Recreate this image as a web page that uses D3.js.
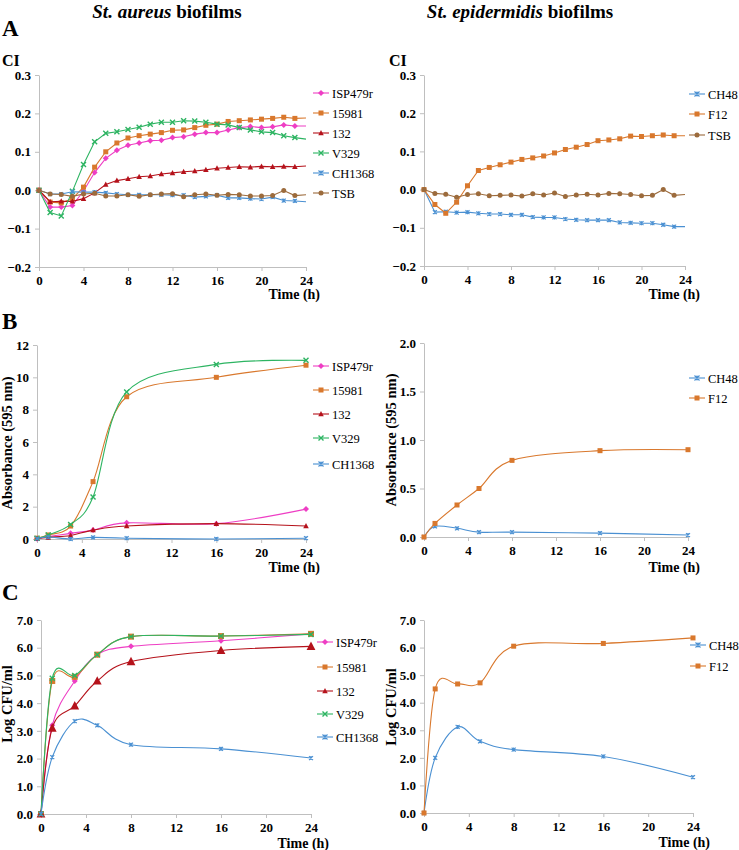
<!DOCTYPE html>
<html><head><meta charset="utf-8">
<script src="https://cdn.jsdelivr.net/npm/d3@7"></script>
<style>body{margin:0;background:#fff} svg{display:block} text{font-family:"Liberation Serif","Times New Roman",serif}</style>
</head><body><svg id="c" width="739" height="850"></svg>
<script>
// ---------- DATA ----------
const hoursA = [0,1,2,3,4,5,6,7,8,9,10,11,12,13,14,15,16,17,18,19,20,21,22,23,24];
const timesBC = [0,1,3,5,8,16,24];
const xTicks = [0,4,8,12,16,20,24];

// Panel A, St. aureus (CI)
const aISP479r = [0,-0.044,-0.044,-0.040,-0.002,0.046,0.083,0.104,0.117,0.123,0.129,0.130,0.137,0.139,0.146,0.150,0.150,0.157,0.163,0.166,0.163,0.165,0.170,0.167,0.167];
const a15981   = [0,-0.031,-0.033,-0.022,0.008,0.060,0.100,0.123,0.136,0.142,0.146,0.150,0.156,0.157,0.163,0.169,0.172,0.179,0.181,0.183,0.185,0.187,0.190,0.187,0.188];
const a132     = [0,-0.030,-0.029,-0.029,-0.022,-0.007,0.015,0.025,0.030,0.035,0.037,0.042,0.045,0.048,0.050,0.053,0.057,0.059,0.061,0.060,0.062,0.061,0.062,0.061,0.063];
const aV329    = [0,-0.058,-0.067,-0.003,0.067,0.126,0.148,0.152,0.158,0.164,0.172,0.177,0.177,0.181,0.180,0.177,0.172,0.170,0.163,0.157,0.152,0.150,0.142,0.137,0.133];
const aCH1368  = [0,-0.010,-0.010,-0.004,-0.005,-0.005,-0.007,-0.010,-0.012,-0.012,-0.012,-0.012,-0.013,-0.013,-0.018,-0.016,-0.013,-0.020,-0.020,-0.022,-0.023,-0.018,-0.027,-0.028,-0.030];
const aTSB     = [0,-0.010,-0.011,-0.016,-0.010,-0.008,-0.015,-0.015,-0.012,-0.016,-0.012,-0.010,-0.009,-0.017,-0.012,-0.010,-0.013,-0.011,-0.012,-0.015,-0.015,-0.014,-0.001,-0.014,-0.012];
// Panel A, St. epidermidis (CI)
const aCH48    = [0,-0.059,-0.058,-0.060,-0.059,-0.062,-0.064,-0.064,-0.066,-0.066,-0.072,-0.073,-0.073,-0.077,-0.079,-0.080,-0.080,-0.080,-0.086,-0.087,-0.088,-0.088,-0.092,-0.097,-0.097];
const aF12     = [0,-0.039,-0.062,-0.033,0.010,0.050,0.058,0.065,0.072,0.079,0.083,0.088,0.096,0.105,0.111,0.118,0.128,0.130,0.133,0.140,0.139,0.141,0.143,0.141,0.141];
const aTSBepi  = [0,-0.010,-0.012,-0.020,-0.013,-0.011,-0.016,-0.015,-0.014,-0.017,-0.011,-0.014,-0.009,-0.018,-0.014,-0.012,-0.014,-0.010,-0.011,-0.013,-0.016,-0.015,0.000,-0.015,-0.013];

// Panel B (Absorbance 595 nm)
const bISP479r = [0.02,0.15,0.35,0.55,1.00,0.95,1.85];
const b15981   = [0.05,0.25,0.80,3.55,8.80,10.00,10.75];
const b132     = [0.02,0.10,0.22,0.55,0.80,0.95,0.80];
const bV329    = [0.05,0.25,0.90,2.60,9.10,10.80,11.05];
const bCH1368  = [0.02,0.12,0.00,0.10,0.05,0.00,0.05];
const bCH48    = [0.00,0.11,0.09,0.05,0.05,0.04,0.02];
const bF12     = [0.00,0.14,0.33,0.50,0.79,0.89,0.90];

// Panel C (Log CFU/ml)
const cISP479r = [0,3.20,4.80,5.75,6.05,6.25,6.50];
const c15981   = [0,4.80,4.95,5.75,6.40,6.42,6.50];
const c132     = [0,3.10,3.90,4.80,5.50,5.90,6.05];
const cV329    = [0,4.90,5.00,5.75,6.40,6.42,6.48];
const cCH1368  = [0,2.05,3.35,3.20,2.50,2.35,2.02];
const cCH48    = [0,2.00,3.12,2.60,2.30,2.05,1.30];
const cF12     = [0,4.50,4.68,4.72,6.05,6.15,6.35];

const ticksCI = [-0.2,-0.1,0,0.1,0.2,0.3];
const ticksBL = [0,2,4,6,8,10,12];
const ticksBR = [0,0.5,1.0,1.5,2.0];
const ticksC  = [0,1,2,3,4,5,6,7];

// ---------- STYLE ----------
const COL = {ISP479r:"#EE3EC4", s15981:"#D9782D", s132:"#B5121B", V329:"#2DB462", CH1368:"#4A90D2", TSB:"#9C6B3C"};
const FONT = '"Liberation Serif","Times New Roman",serif';
const svg = d3.select("#c");
const AX = "#BFBFBF";

function marker(g, type, x, y, s, color){
  const h = s/2;
  if(type==="square") g.append("rect").attr("x",x-h).attr("y",y-h).attr("width",s).attr("height",s).attr("fill",color);
  else if(type==="diamond") g.append("path").attr("d",`M${x},${y-h*1.2}L${x+h*1.2},${y}L${x},${y+h*1.2}L${x-h*1.2},${y}Z`).attr("fill",color);
  else if(type==="triangle") g.append("path").attr("d",`M${x},${y-h*1.2}L${x+h*1.1},${y+h*0.9}L${x-h*1.1},${y+h*0.9}Z`).attr("fill",color);
  else if(type==="circle") g.append("circle").attr("cx",x).attr("cy",y).attr("r",h).attr("fill",color);
  else if(type==="x") g.append("path").attr("d",`M${x-h},${y-h}L${x+h},${y+h}M${x-h},${y+h}L${x+h},${y-h}`).attr("stroke",color).attr("stroke-width",1.4).attr("fill","none");
  else if(type==="star") g.append("path").attr("d",`M${x-h},${y-h}L${x+h},${y+h}M${x-h},${y+h}L${x+h},${y-h}M${x},${y-h}L${x},${y+h}`).attr("stroke",color).attr("stroke-width",1.1).attr("fill","none");
}

function panel(p){
  const g = svg.append("g");
  const x = d3.scaleLinear().domain([0,24]).range([p.x0,p.x1]);
  const y = d3.scaleLinear().domain(p.yDomain).range([p.yBot,p.yTop]);
  const ya = g.append("g").attr("transform",`translate(${p.x0},0)`)
    .call(d3.axisLeft(y).tickValues(p.yTicks).tickFormat(p.yFmt).tickSize(4).tickSizeOuter(0).tickPadding(4));
  const xa = g.append("g").attr("transform",`translate(0,${p.yBot})`)
    .call(d3.axisBottom(x).tickValues(xTicks).tickFormat(d3.format("d")).tickSize(4).tickSizeOuter(0).tickPadding(5));
  [ya,xa].forEach(a=>{
    a.attr("font-family",FONT);
    a.select(".domain").attr("stroke",AX);
    a.selectAll(".tick line").attr("stroke",AX);
    a.selectAll("text").attr("fill","#000").attr("font-weight","bold").attr("font-size",13);
  });
  p.series.forEach(s=>{
    const pts = p.xs.map((t,i)=>[t,s.values[i]]);
    const line = d3.line().x(d=>x(d[0])).y(d=>y(d[1])).curve(p.curve);
    g.append("path").attr("d",line(pts)).attr("fill","none").attr("stroke",s.color).attr("stroke-width",1.1);
    const mk = p.markLast ? pts : pts.slice(0,-1);
    mk.forEach(d=>marker(g,s.marker,x(d[0]),y(d[1]),s.size,s.color));
  });
  p.series.forEach((s,i)=>{
    const ly = p.legend.ys[i];
    g.append("line").attr("x1",p.legend.x).attr("x2",p.legend.x+16).attr("y1",ly).attr("y2",ly).attr("stroke",s.color).attr("stroke-width",1.1);
    marker(g,s.marker,p.legend.x+8,ly,s.lsize||5,s.color);
    g.append("text").attr("x",p.legend.x+19).attr("y",ly+4.5).attr("font-size",12.5).text(s.name);
  });
  g.append("text").attr("x",p.timeX).attr("y",p.timeY).attr("text-anchor","end").attr("font-weight","bold").attr("font-size",14).text("Time (h)");
  if(p.yTitle){
    g.append("text").attr("transform",`translate(${p.yTitle.x},${p.yTitle.y}) rotate(-90)`).attr("text-anchor","middle")
      .attr("font-weight","bold").attr("font-size",14.5).text(p.yTitle.text);
  }
}

const f1 = d3.format(".1f"), fd = d3.format("d");
const lin = d3.curveLinear, smooth = d3.curveCatmullRom.alpha(0);

panel({x0:39,x1:306,yTop:75,yBot:267,yDomain:[-0.2,0.3],yTicks:ticksCI,yFmt:f1,xs:hoursA,curve:lin,markLast:false,
  series:[
    {name:"ISP479r",values:aISP479r,color:COL.ISP479r,marker:"diamond",size:5},
    {name:"15981",values:a15981,color:COL.s15981,marker:"square",size:5},
    {name:"132",values:a132,color:COL.s132,marker:"triangle",size:5},
    {name:"V329",values:aV329,color:COL.V329,marker:"x",size:5},
    {name:"CH1368",values:aCH1368,color:COL.CH1368,marker:"star",size:4},
    {name:"TSB",values:aTSB,color:COL.TSB,marker:"circle",size:5}],
  legend:{x:313,ys:[93,113,133,153,173,193]},timeX:320,timeY:299});
panel({x0:424,x1:685,yTop:75,yBot:266,yDomain:[-0.2,0.3],yTicks:ticksCI,yFmt:f1,xs:hoursA,curve:lin,markLast:false,
  series:[
    {name:"CH48",values:aCH48,color:COL.CH1368,marker:"star",size:4},
    {name:"F12",values:aF12,color:COL.s15981,marker:"square",size:5},
    {name:"TSB",values:aTSBepi,color:COL.TSB,marker:"circle",size:5}],
  legend:{x:689,ys:[94,114,135]},timeX:700,timeY:299});
panel({x0:37,x1:306,yTop:345,yBot:539,yDomain:[0,12],yTicks:ticksBL,yFmt:fd,xs:timesBC,curve:smooth,markLast:true,
  series:[
    {name:"ISP479r",values:bISP479r,color:COL.ISP479r,marker:"diamond",size:5},
    {name:"15981",values:b15981,color:COL.s15981,marker:"square",size:5},
    {name:"132",values:b132,color:COL.s132,marker:"triangle",size:5},
    {name:"V329",values:bV329,color:COL.V329,marker:"x",size:5},
    {name:"CH1368",values:bCH1368,color:COL.CH1368,marker:"star",size:4}],
  legend:{x:313,ys:[366,390,414,438,464]},timeX:320,timeY:572,
  yTitle:{x:12,y:443,text:"Absorbance (595 nm)"}});
panel({x0:424,x1:688,yTop:343,yBot:537,yDomain:[0,2],yTicks:ticksBR,yFmt:f1,xs:timesBC,curve:smooth,markLast:true,
  series:[
    {name:"CH48",values:bCH48,color:COL.CH1368,marker:"star",size:4},
    {name:"F12",values:bF12,color:COL.s15981,marker:"square",size:5}],
  legend:{x:689,ys:[378,398]},timeX:700,timeY:572,
  yTitle:{x:396,y:440,text:"Absorbance (595 nm)"}});
panel({x0:41,x1:311,yTop:620,yBot:814,yDomain:[0,7],yTicks:ticksC,yFmt:f1,xs:timesBC,curve:smooth,markLast:true,
  series:[
    {name:"ISP479r",values:cISP479r,color:COL.ISP479r,marker:"diamond",size:5},
    {name:"15981",values:c15981,color:COL.s15981,marker:"square",size:6},
    {name:"132",values:c132,color:COL.s132,marker:"triangle",size:8},
    {name:"V329",values:cV329,color:COL.V329,marker:"x",size:5},
    {name:"CH1368",values:cCH1368,color:COL.CH1368,marker:"star",size:4}],
  legend:{x:317,ys:[642,667,691,714,737]},timeX:329,timeY:848,
  yTitle:{x:12,y:704,text:"Log CFU/ml"}});
panel({x0:424,x1:693,yTop:620,yBot:813,yDomain:[0,7],yTicks:ticksC,yFmt:f1,xs:timesBC,curve:smooth,markLast:true,
  series:[
    {name:"CH48",values:cCH48,color:COL.CH1368,marker:"star",size:4},
    {name:"F12",values:cF12,color:COL.s15981,marker:"square",size:5}],
  legend:{x:690,ys:[645,666]},timeX:710,timeY:847,
  yTitle:{x:396,y:707,text:"Log CFU/ml"}});

const t1 = svg.append("text").attr("x",167).attr("y",18).attr("text-anchor","middle").attr("font-weight","bold").attr("font-size",19);
t1.append("tspan").attr("font-style","italic").text("St. aureus");
t1.append("tspan").text(" biofilms");
const t2 = svg.append("text").attr("x",520).attr("y",18).attr("text-anchor","middle").attr("font-weight","bold").attr("font-size",19);
t2.append("tspan").attr("font-style","italic").text("St. epidermidis");
t2.append("tspan").text(" biofilms");
[["A",36],["B",329],["C",600]].forEach(([l,yy])=>svg.append("text").attr("x",2).attr("y",yy).attr("font-weight","bold").attr("font-size",23).text(l));
svg.append("text").attr("x",2).attr("y",66).attr("font-weight","bold").attr("font-size",16).text("CI");
svg.append("text").attr("x",389).attr("y",66).attr("font-weight","bold").attr("font-size",16).text("CI");
</script></body></html>
